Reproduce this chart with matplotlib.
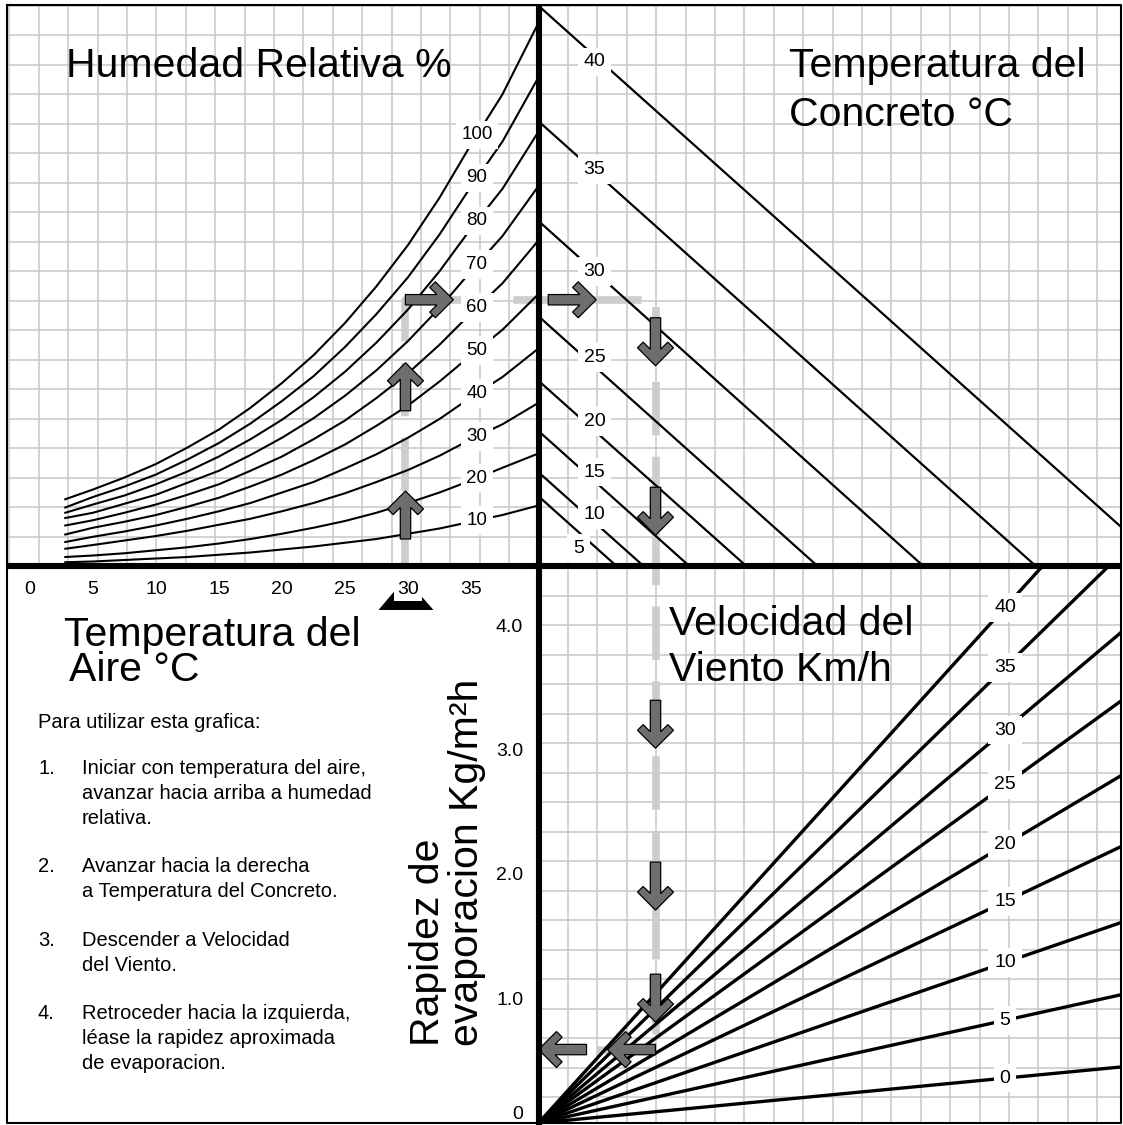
import numpy as np
import matplotlib
matplotlib.use("Agg")
import matplotlib.pyplot as plt
from matplotlib.patches import Polygon

plt.rcParams['font.family'] = ['Liberation Sans', 'DejaVu Sans']

# ---------------- datos ----------------
# Humedad relativa: presion de vapor (kPa) segun temperatura del aire
temp_aire = [2.8, 5, 7.5, 10, 12.5, 15, 17.5, 20, 22.5, 25, 27.5, 30, 32.5, 35, 37.5, 40.2]
humedades = [100, 90, 80, 70, 60, 50, 40, 30, 20, 10]
curvas_hr = [
    [0.89, 1.02, 1.18, 1.36, 1.58, 1.82, 2.11, 2.44, 2.81, 3.24, 3.73, 4.28, 4.91, 5.62, 6.29, 7.19],
    [0.78, 0.92, 1.06, 1.22, 1.42, 1.64, 1.90, 2.20, 2.53, 2.92, 3.36, 3.85, 4.42, 5.06, 5.66, 6.47],
    [0.71, 0.82, 0.94, 1.09, 1.26, 1.46, 1.69, 1.95, 2.25, 2.59, 2.98, 3.42, 3.93, 4.50, 5.03, 5.75],
    [0.64, 0.71, 0.83, 0.95, 1.11, 1.27, 1.48, 1.71, 1.97, 2.27, 2.61, 3.00, 3.44, 3.93, 4.40, 5.03],
    [0.54, 0.61, 0.71, 0.82, 0.95, 1.09, 1.27, 1.46, 1.69, 1.94, 2.24, 2.57, 2.95, 3.37, 3.77, 4.31],
    [0.42, 0.51, 0.59, 0.68, 0.79, 0.91, 1.06, 1.22, 1.41, 1.62, 1.87, 2.14, 2.46, 2.81, 3.15, 3.60],
    [0.32, 0.39, 0.46, 0.54, 0.63, 0.73, 0.84, 0.98, 1.12, 1.30, 1.49, 1.71, 1.96, 2.25, 2.52, 2.88],
    [0.23, 0.28, 0.34, 0.40, 0.47, 0.55, 0.63, 0.73, 0.84, 0.97, 1.12, 1.28, 1.47, 1.69, 1.89, 2.16],
    [0.12, 0.14, 0.17, 0.21, 0.25, 0.30, 0.36, 0.43, 0.51, 0.60, 0.71, 0.84, 0.98, 1.14, 1.31, 1.49],
    [0.05, 0.06, 0.08, 0.10, 0.12, 0.15, 0.18, 0.22, 0.26, 0.31, 0.36, 0.43, 0.50, 0.59, 0.68, 0.80],
]
ticks_aire = [0, 5, 10, 15, 20, 25, 30, 35]

# Temperatura del concreto: recta desde (0, inicio) hasta (fin, 0)
temp_concreto = [40, 35, 30, 25, 20, 15, 10, 5]
concreto_inicio = [7.47, 5.93, 4.60, 3.33, 2.47, 1.80, 1.25, 0.93]
concreto_fin = [8.35, 6.63, 5.13, 3.72, 2.77, 2.01, 1.40, 1.04]

# Velocidad del viento: rapidez de evaporacion en el borde derecho
viento = [0, 5, 10, 15, 20, 25, 30, 35, 40]
rapidez_borde = [0.45, 1.03, 1.61, 2.22, 2.79, 3.39, 3.94, 4.57, 5.17]
ticks_rapidez = [0, 1, 2, 3, 4]
etiq_rapidez = ['0', '1.0', '2.0', '3.0', '4.0']

# ejemplo de lectura (trayectoria gris)
ej_aire = 29.8
ej_presion = 3.55
ej_dx = 1.56
ej_rapidez = 0.59

# ---------------- geometria (pixeles) ----------------
W, H = 1123, 1125
X0, XC, X1 = 7, 538.5, 1121
Y0, YC, Y1 = 5, 566, 1123
PX_KPA = 75.0      # px por kPa
PX_C = 12.6        # px por grado C
CERO_C = 30.0      # pixel del 0 C
PX_RAP = 124.5     # px por kg/m2h

# posicion de las etiquetas del concreto (px desde el eje, desplazamiento vertical px)
etq_conc_x = [56, 56, 56, 56, 56, 56, 56, 40]
etq_conc_dy = [-6, 2, 0, 9, 9, 9, 8, -16]

fig = plt.figure(figsize=(W / 100, H / 100), dpi=100)


def ejes(x0, y0, x1, y1, z):
    a = fig.add_axes([x0 / W, 1 - y1 / H, (x1 - x0) / W, (y1 - y0) / H], zorder=z)
    a.set_facecolor('none')
    for s in a.spines.values():
        s.set_visible(False)
    return a


fondo = ejes(0, 0, W, H, 0)
fondo.set_xlim(0, W)
fondo.set_ylim(H, 0)
fondo.set_xticks([])
fondo.set_yticks([])

ax_hr = ejes(X0, Y0, XC, YC, 1)
ax_hr.set_xlim((X0 - CERO_C) / PX_C, (XC - CERO_C) / PX_C)
ax_hr.set_ylim(0, (YC - Y0) / PX_KPA)

ax_tc = ejes(XC, Y0, X1, YC, 1)
ax_tc.set_xlim(0, (X1 - XC) / PX_KPA)
ax_tc.set_ylim(0, (YC - Y0) / PX_KPA)

ax_w = ejes(XC, YC, X1, Y1, 1)
ax_w.set_xlim(0, (X1 - XC) / PX_KPA)
ax_w.set_ylim(0, (Y1 - YC) / PX_RAP)

frente = ejes(0, 0, W, H, 2)
frente.set_xlim(0, W)
frente.set_ylim(H, 0)
frente.set_xticks([])
frente.set_yticks([])

# cuadricula
gris = '#c8c8c8'
gx = XC + 29.4 * np.arange(-18, 21)
gy = YC + 29.5 * np.arange(-19, 20)
gx = gx[(gx > X0) & (gx < X1)]
gy = gy[(gy > Y0) & (gy < Y1)]
fondo.vlines(gx, Y0, YC, color=gris, lw=1.1)
fondo.hlines(gy[gy < YC], X0, X1, color=gris, lw=1.1)
fondo.vlines(gx[gx > XC], YC, Y1, color=gris, lw=1.1)
fondo.hlines(gy[gy > YC], XC, X1, color=gris, lw=1.1)

caja = dict(boxstyle='square,pad=0.3', fc='white', ec='none')
fs_num = 14

# humedad relativa
t_lab = (477 - CERO_C) / PX_C
for hr, fila in zip(humedades, curvas_hr):
    ax_hr.plot(temp_aire, fila, color='black', lw=1.5)
    ax_hr.text(t_lab, np.interp(t_lab, temp_aire, fila), str(hr), ha='center',
               va='center', fontsize=13.5, bbox=caja, zorder=5)
ax_hr.set_xticks(ticks_aire)
ax_hr.set_xticklabels([str(t) for t in ticks_aire])
ax_hr.set_yticks([])
ax_hr.tick_params(axis='x', length=0, pad=10.8, labelsize=fs_num)
for lbl in ax_hr.get_xticklabels():
    if lbl.get_text() == '30':
        lbl.set_bbox(dict(boxstyle='square,pad=0.15', fc='white', ec='none'))

# concreto
for tc, y0, x1, ex, edy in zip(temp_concreto, concreto_inicio, concreto_fin,
                               etq_conc_x, etq_conc_dy):
    ax_tc.plot([0, x1], [y0, 0], color='black', lw=1.6)
    xl = ex / PX_KPA
    ax_tc.text(xl, y0 * (1 - xl / x1) + edy / PX_KPA, str(tc), ha='center', va='center',
               fontsize=fs_num, bbox=caja, zorder=5)
ax_tc.set_xticks([])
ax_tc.set_yticks([])

# viento
xmax = (X1 - XC) / PX_KPA
x_lab_w = (1005 - XC) / PX_KPA
for v, r in zip(viento, rapidez_borde):
    ax_w.plot([0, xmax], [0, r], color='black', lw=2.4, solid_capstyle='butt')
    ax_w.text(x_lab_w, r * x_lab_w / xmax, str(v), ha='center', va='center',
              fontsize=fs_num, bbox=caja, zorder=5)
ax_w.set_xticks([])
ax_w.set_yticks(ticks_rapidez)
ax_w.set_yticklabels(etiq_rapidez)
ax_w.tick_params(axis='y', length=0, pad=11, labelsize=fs_num)
ax_w.get_yticklabels()[0].set_verticalalignment('bottom')


def a_px(ax, x, y):
    return fondo.transData.inverted().transform(ax.transData.transform((x, y)))


# trayectoria del ejemplo
pts = np.array([a_px(ax_hr, ej_aire, 0), a_px(ax_hr, ej_aire, ej_presion),
                a_px(ax_tc, ej_dx, ej_presion), a_px(ax_w, ej_dx, ej_rapidez),
                a_px(ax_w, 0, ej_rapidez)])
fondo.plot(pts[:, 0], pts[:, 1], color='#cdcdcd', lw=5.5, dashes=(7, 2.8),
           dash_capstyle='butt')

# marcador triangular bajo el 30
bx, _ = a_px(ax_hr, ej_aire, 0)
fondo.add_patch(Polygon([[bx - 27, 610], [bx + 28, 610], [bx, 578]], closed=True,
                        fc='black', ec='none'))

# flechas
flechas = [
    (ax_hr, ej_aire, 1.00, (0, -1)),
    (ax_hr, ej_aire, 2.71, (0, -1)),
    (ax_hr, 33.6, ej_presion, (1, 0)),
    (ax_tc, 0.77, ej_presion, (1, 0)),
    (ax_tc, ej_dx, 2.67, (0, 1)),
    (ax_tc, ej_dx, 0.41, (0, 1)),
    (ax_w, ej_dx, 3.01, (0, 1)),
    (ax_w, ej_dx, 1.71, (0, 1)),
    (ax_w, ej_dx, 0.81, (0, 1)),
    (ax_w, 0.92, ej_rapidez, (-1, 0)),
    (ax_w, 0.0, ej_rapidez, (-1, 0)),
]
L, hw, w, a = 48, 18, 5.2, 8.0
d = a * np.sqrt(2)
e = a / np.sqrt(2)
forma = np.array([[0, 0], [-hw, hw], [-hw - e, hw - e], [-w - d, w], [-L, w],
                  [-L, -w], [-w - d, -w], [-hw - e, -hw + e], [-hw, -hw]])
for ax, x, y, (ux, uy) in flechas:
    tx, ty = a_px(ax, x, y)
    u = np.array([ux, uy], float)
    p = np.array([-uy, ux], float)
    verts = np.array([[tx, ty] + f[0] * u + f[1] * p for f in forma])
    frente.add_patch(Polygon(verts, closed=True, fc='#6e6e6e', ec='black', lw=0.9))

# lineas gruesas y marco
frente.plot([XC, XC], [Y0, H], color='black', lw=4.4, solid_capstyle='butt')
frente.plot([X0, X1], [YC, YC], color='black', lw=4.4, solid_capstyle='butt')
frente.plot([X0, X1, X1, X0, X0], [Y0, Y0, Y1, Y1, Y0], color='black', lw=1.5)

# textos


def texto(x, y, s, **kw):
    fig.text(x / W, 1 - y / H, s, **kw)


fs_tit = 29.5
texto(66, 77, 'Humedad Relativa %', fontsize=fs_tit, va='baseline')
texto(789, 77, 'Temperatura del', fontsize=fs_tit, va='baseline')
texto(789, 126, 'Concreto °C', fontsize=fs_tit, va='baseline')
texto(669, 635, 'Velocidad del', fontsize=fs_tit, va='baseline')
texto(669, 681, 'Viento Km/h', fontsize=fs_tit, va='baseline')
texto(64, 646, 'Temperatura del', fontsize=fs_tit, va='baseline')
texto(69, 681, 'Aire °C', fontsize=fs_tit, va='baseline')

fig.text(439 / W, 1 - 1046 / H, 'Rapidez de', fontsize=fs_tit, rotation=90,
         rotation_mode='anchor', ha='left', va='baseline')
fig.text(478 / W, 1 - 1046 / H, 'evaporacion Kg/m²h', fontsize=fs_tit, rotation=90,
         rotation_mode='anchor', ha='left', va='baseline')

fs_ins = 14.5
texto(38, 728, 'Para utilizar esta grafica:', fontsize=fs_ins, va='baseline')
pasos = [
    ('1.', ['Iniciar con temperatura del aire,', 'avanzar hacia arriba a humedad', 'relativa.'], 774),
    ('2.', ['Avanzar hacia la derecha', 'a Temperatura del Concreto.'], 872),
    ('3.', ['Descender a Velocidad', 'del Viento.'], 946),
    ('4.', ['Retroceder hacia la izquierda,', 'léase la rapidez aproximada', 'de evaporacion.'], 1019),
]
for num, lineas, yb in pasos:
    texto(38, yb, num, fontsize=fs_ins, va='baseline')
    for i, ln in enumerate(lineas):
        texto(82, yb + 25 * i, ln, fontsize=fs_ins, va='baseline')

fig.savefig('out.png', dpi=100)
